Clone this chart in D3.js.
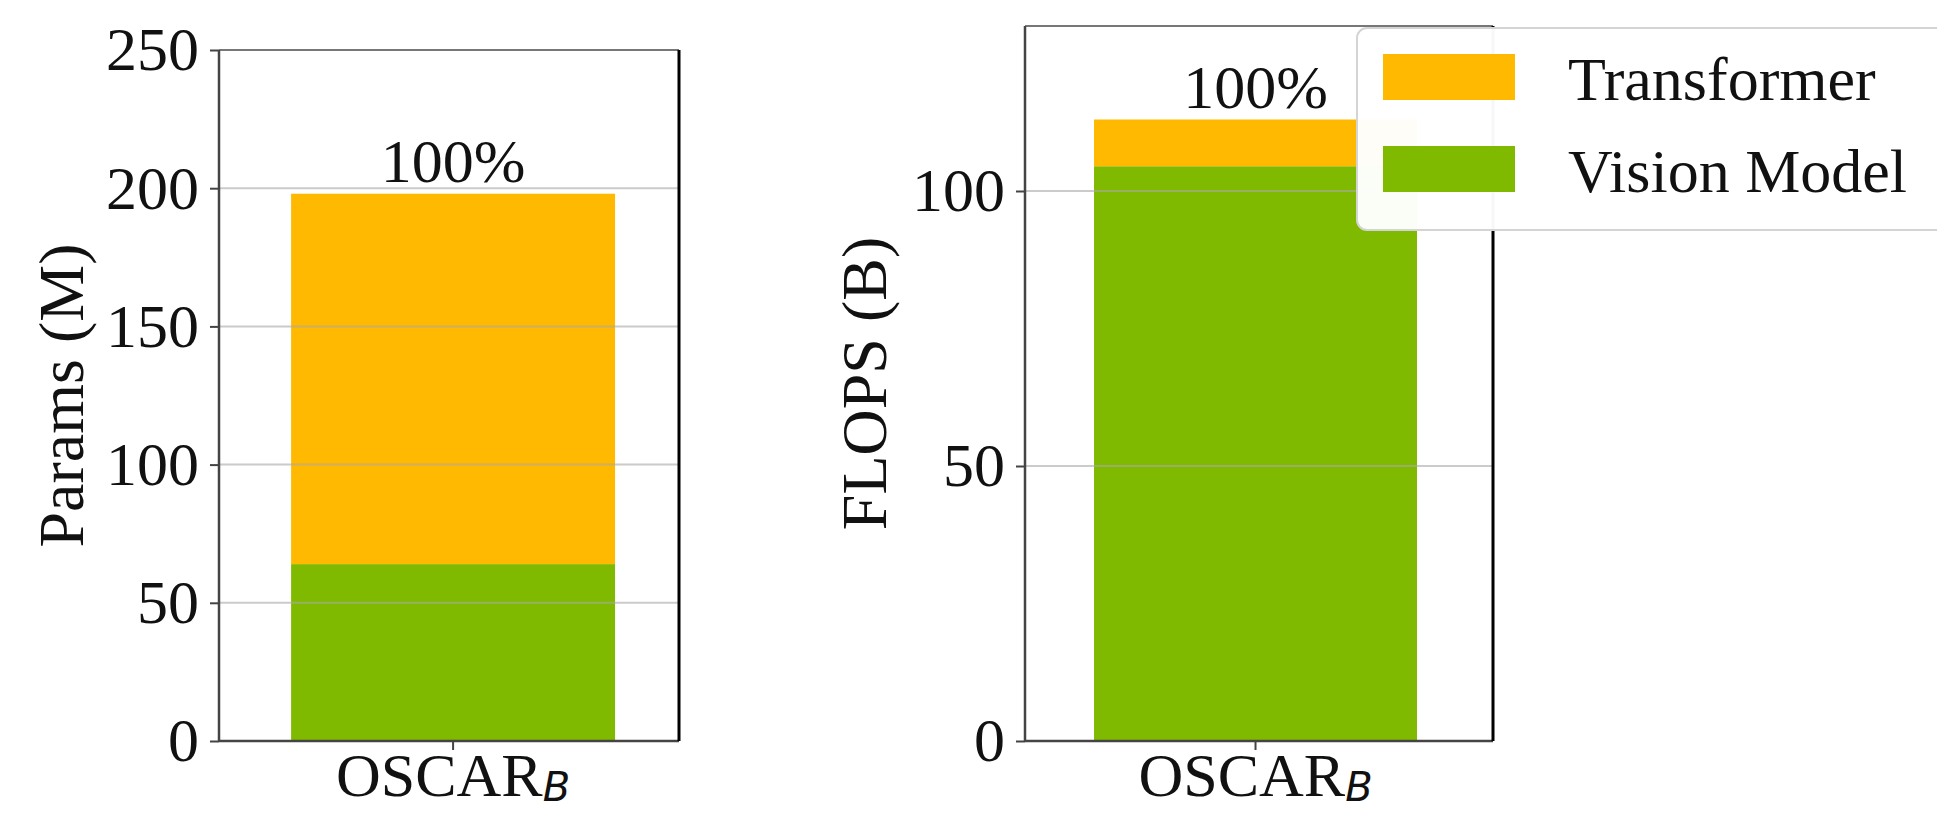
<!DOCTYPE html>
<html>
<head>
<meta charset="utf-8">
<script src="https://cdn.jsdelivr.net/npm/d3@7/dist/d3.min.js"></script>
<style>
  html, body { margin: 0; padding: 0; background: #fff; overflow: hidden; }
  svg { display: block; }
  text { font-family: "Liberation Serif", "Times New Roman", serif; fill: #111; }
</style>
</head>
<body>
<svg id="chart" width="1937" height="813"></svg>
<script>
// ---- data ----
const categories = ["OSCAR"];
const categorySub = ["B"];
const seriesNames = ["Transformer", "Vision Model"];
const seriesColors = ["#FFB900", "#7FBA00"];
const paramsVision = [64];
const paramsTransformer = [134];
const flopsVision = [104.5];
const flopsTransformer = [8.5];
const percentLabels = ["100%"];
const paramsTicks = [0, 50, 100, 150, 200, 250];
const flopsTicks = [0, 50, 100];
const paramsMax = 250;
const flopsMax = 130;

const svg = d3.select("#chart");
const FS = 62;

function panel(cfg) {
  const g = svg.append("g");
  const x = d3.scaleBand().domain(categories).range([cfg.left, cfg.right])
    .paddingInner(0).paddingOuter(cfg.po).align(cfg.align);
  const y = d3.scaleLinear().domain([0, cfg.ymax]).range([cfg.bottom, cfg.top]);

  // bars (stacked: vision bottom, transformer on top)
  categories.forEach((c, i) => {
    const v = cfg.vision[i], t = cfg.transformer[i];
    g.append("rect").attr("x", x(c)).attr("width", x.bandwidth())
      .attr("y", y(v)).attr("height", y(0) - y(v)).attr("fill", seriesColors[1]);
    g.append("rect").attr("x", x(c)).attr("width", x.bandwidth())
      .attr("y", y(v + t)).attr("height", y(v) - y(v + t)).attr("fill", seriesColors[0]);
    g.append("text").attr("x", x(c) + x.bandwidth() / 2).attr("y", y(v + t) - 12)
      .attr("text-anchor", "middle").attr("font-size", FS).text(percentLabels[i]);
  });

  // grid (above bars)
  g.selectAll(".grid").data(cfg.ticks.filter(d => d > 0 && d < cfg.ymax)).enter()
    .append("line").attr("x1", cfg.left).attr("x2", cfg.right)
    .attr("y1", d => y(d)).attr("y2", d => y(d))
    .attr("stroke", "#a8a8a8").attr("stroke-opacity", 0.6).attr("stroke-width", 2);

  // y axis
  const ya = g.append("g").attr("transform", `translate(${cfg.left},0)`)
    .call(d3.axisLeft(y).tickValues(cfg.ticks).tickSize(9).tickPadding(11).tickFormat(d3.format("d")));
  ya.select(".domain").remove();
  ya.selectAll(".tick line").attr("stroke", "#444").attr("stroke-width", 2);
  ya.selectAll(".tick text").attr("font-size", FS).attr("font-family", "Liberation Serif").attr("fill", "#111");

  // x axis
  const xa = g.append("g").attr("transform", `translate(0,${cfg.bottom})`)
    .call(d3.axisBottom(x).tickSize(9).tickFormat(""));
  xa.select(".domain").remove();
  xa.selectAll(".tick line").attr("stroke", "#444").attr("stroke-width", 2);
  categories.forEach((c, i) => {
    const t = g.append("text").attr("x", x(c) + x.bandwidth() / 2).attr("y", cfg.bottom + 55)
      .attr("text-anchor", "middle").attr("font-size", FS);
    t.append("tspan").text(c);
    t.append("tspan").attr("dy", 5).attr("font-size", 40)
      .attr("font-family", "DejaVu Sans").attr("font-style", "italic").text(categorySub[i]);
  });

  // spines
  g.append("line").attr("x1", cfg.left).attr("x2", cfg.right).attr("y1", cfg.top).attr("y2", cfg.top)
    .attr("stroke", "#777").attr("stroke-width", 2);
  g.append("line").attr("x1", cfg.left).attr("x2", cfg.right).attr("y1", cfg.bottom).attr("y2", cfg.bottom)
    .attr("stroke", "#444").attr("stroke-width", 2.5);
  g.append("line").attr("x1", cfg.left).attr("x2", cfg.left).attr("y1", cfg.top).attr("y2", cfg.bottom)
    .attr("stroke", "#444").attr("stroke-width", 2.5);
  g.append("line").attr("x1", cfg.right).attr("x2", cfg.right).attr("y1", cfg.top).attr("y2", cfg.bottom)
    .attr("stroke", "#000").attr("stroke-width", 3);

  // y label
  g.append("text").attr("transform", `translate(${cfg.labelX},${(cfg.top + cfg.bottom) / 2}) rotate(-90)`)
    .attr("text-anchor", "middle").attr("font-size", 64).text(cfg.ylabel);
}

panel({ left: 219, right: 679, top: 50, bottom: 741, ymax: paramsMax, ticks: paramsTicks,
        po: 0.21, align: 0.53,
        vision: paramsVision, transformer: paramsTransformer, ylabel: "Params (M)", labelX: 83 });
panel({ left: 1025, right: 1493, top: 26, bottom: 741, ymax: flopsMax, ticks: flopsTicks,
        po: 0.2245, align: 0.476,
        vision: flopsVision, transformer: flopsTransformer, ylabel: "FLOPS (B)", labelX: 886 });

// legend
const lg = svg.append("g");
lg.append("rect").attr("x", 1357).attr("y", 28).attr("width", 620).attr("height", 202)
  .attr("rx", 10).attr("fill", "#fff").attr("fill-opacity", 0.97)
  .attr("stroke", "#d4d4d4").attr("stroke-width", 2);
seriesNames.forEach((s, i) => {
  const yb = 100 + i * 92;
  lg.append("rect").attr("x", 1383).attr("y", yb - 46).attr("width", 132).attr("height", 46)
    .attr("fill", seriesColors[i]);
  lg.append("text").attr("x", 1568).attr("y", yb).attr("font-size", FS).text(s);
});
</script>
</body>
</html>
